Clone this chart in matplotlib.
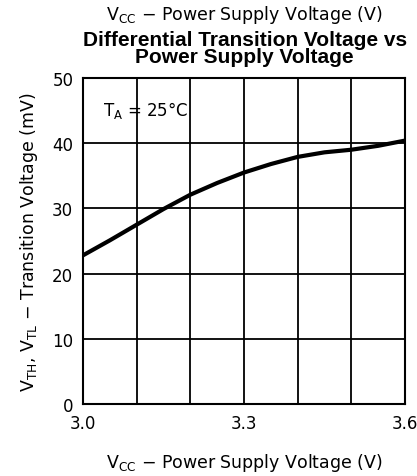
import matplotlib
matplotlib.use("Agg")
import matplotlib.pyplot as plt
import numpy as np

vcc = [3.0, 3.05, 3.1, 3.15, 3.2, 3.25, 3.3, 3.35, 3.4, 3.45, 3.5, 3.55, 3.6]
vt = [22.8, 25.1, 27.5, 29.9, 32.1, 33.9, 35.5, 36.8, 37.9, 38.6, 39.0, 39.6, 40.4]
xticks = [3.0, 3.3, 3.6]
xtick_labels = ["3.0", "3.3", "3.6"]
yticks = [0, 10, 20, 30, 40, 50]

plt.rcParams['font.family'] = ['DejaVu Sans']
fig = plt.figure(figsize=(4.17, 4.77), dpi=100)
ax = fig.add_axes([83/417, 1-405/477, 322/417, 326/477])

ax.plot(vcc, vt, color='black', lw=3, solid_joinstyle='round', solid_capstyle='butt', zorder=3)
ax.set_xlim(3.0, 3.6)
ax.set_ylim(0, 50)
for x in np.arange(3.1, 3.55, 0.1):
    ax.axvline(x, color='black', lw=1.3, zorder=1)
for y in [10, 20, 30, 40]:
    ax.axhline(y, color='black', lw=1.3, zorder=1)
ax.set_xticks(xticks)
ax.set_xticklabels(xtick_labels)
ax.set_yticks(yticks)
ax.tick_params(length=0, labelsize=12, pad=7)
for s in ax.spines.values():
    s.set_linewidth(1.5)

ax.text(0.062, 0.935, r"T$_\mathregular{A}$ = 25°C", transform=ax.transAxes, fontsize=12,
        va='top', ha='left', zorder=4)

ax.set_xlabel(r"V$_\mathregular{CC}$ $-$ Power Supply Voltage (V)", fontsize=12.5, labelpad=14)
ax.set_ylabel(r"V$_\mathregular{TH}$, V$_\mathregular{TL}$ $-$ Transition Voltage (mV)", fontsize=12.5, labelpad=9)

fig.text(0.585, 1-15/477, r"V$_\mathregular{CC}$ $-$ Power Supply Voltage (V)", fontsize=12.5, ha='center', va='center')
fig.text(0.587, 1-49/477, "Differential Transition Voltage vs\nPower Supply Voltage", fontsize=15,
         fontweight='bold', family='Liberation Sans', ha='center', va='center', linespacing=0.9)

fig.savefig("out.png", dpi=100)
